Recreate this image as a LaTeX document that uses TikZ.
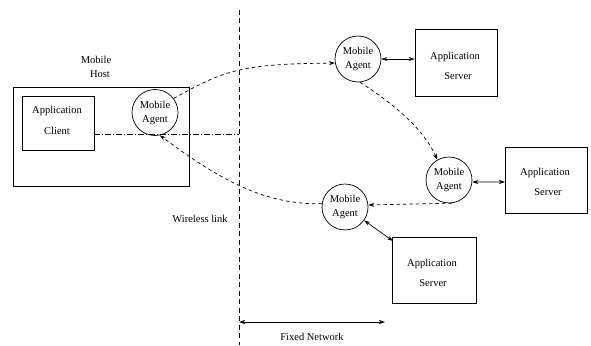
\documentclass[tikz,border=0pt]{standalone}
\usepackage{fontspec}
\setmainfont{Liberation Serif}
\usetikzlibrary{arrows.meta}
\begin{document}
\begin{tikzpicture}[x=1pt,y=-1pt,
  every node/.style={font=\fontsize{10.5}{14}\selectfont},
  txt/.style={inner sep=0pt},
  boxnode/.style={draw,line width=0.7pt,inner sep=0pt},
  agent/.style={draw,circle,line width=0.7pt,minimum size=46pt,inner sep=0pt,align=center},
  tip/.style={-{Stealth[length=6pt,width=4pt]}},
  dtip/.style={{Stealth[length=6pt,width=4pt]}-{Stealth[length=6pt,width=4pt]}},
  dsh/.style={line width=0.7pt,dash pattern=on 3.5pt off 3pt},
  solidln/.style={line width=0.7pt}]
\useasboundingbox (0,0) rectangle (591,345);
% wireless boundary
\coordinate (vt) at (239,10);
\coordinate (vb) at (239,345);
\draw[line width=0.8pt,dash pattern=on 5pt off 3.5pt] (vt) -- (vb);
% mobile host
\node[boxnode,minimum width=176pt,minimum height=99pt] (host) at (101,136.5) {};
\node[txt] (mh1) at (96,60) {Mobile};
\node[txt] (mh2) at (100,74) {Host};
\node[boxnode,minimum width=72pt,minimum height=54pt] (ac) at (58,123) {};
\node[txt] (ac1) at (57,111) {Application};
\node[txt] (ac2) at (57,131) {Client};
\node[agent] (ma1) at (155,112.5) {Mobile\\Agent};
% agents
\node[agent] (ma2) at (358,59) {Mobile\\Agent};
\node[agent] (ma3) at (449,180) {Mobile\\Agent};
\node[agent] (ma4) at (345,207) {Mobile\\Agent};
% servers
\node[boxnode,minimum width=82pt,minimum height=67pt] (s1) at (456,62.5) {};
\node[txt] (s1a) at (455,57) {Application};
\node[txt] (s1b) at (458,76) {Server};
\node[boxnode,minimum width=82pt,minimum height=66pt] (s2) at (546,180) {};
\node[txt] (s2a) at (545,173) {Application};
\node[txt] (s2b) at (548,192) {Server};
\node[boxnode,minimum width=84pt,minimum height=66pt] (s3) at (434,270) {};
\node[txt] (s3a) at (432,264) {Application};
\node[txt] (s3b) at (433,283) {Server};
% labels
\node[txt] (wl) at (200,219) {Wireless link};
\node[txt] (fn) at (312,337) {Fixed Network};
% dash-dot link
\coordinate (dd) at (239,134);
\draw[line width=0.7pt,dash pattern=on 6pt off 2pt on 1pt off 2pt] (ac.east |- dd) -- (dd);
% migrations
\draw[dsh,tip] (ma1.37) .. controls (225,70) and (240,64) .. (ma2.190);
\draw[dsh,tip] (ma2.-85) .. controls (400,108) and (425,132) .. (ma3.120);
\draw[dsh,tip] (ma3.-83) -- (ma4.5);
\draw[dsh,tip] (ma4.172) .. controls (265,205) and (220,180) .. (ma1.-78);
% agent-server links
\draw[solidln,dtip] (ma2.east) -- (s1.west |- ma2.east);
\coordinate (l3) at (505,182);
\draw[solidln,dtip] (ma3.-5) -- (l3);
\coordinate (l4) at (393,241);
\draw[solidln,dtip] (ma4.-35) -- (l4);
% fixed network
\coordinate (fa) at (239,322);
\coordinate (fb) at (385,322);
\draw[solidln,dtip] (fa) -- (fb);
\end{tikzpicture}
\end{document}
